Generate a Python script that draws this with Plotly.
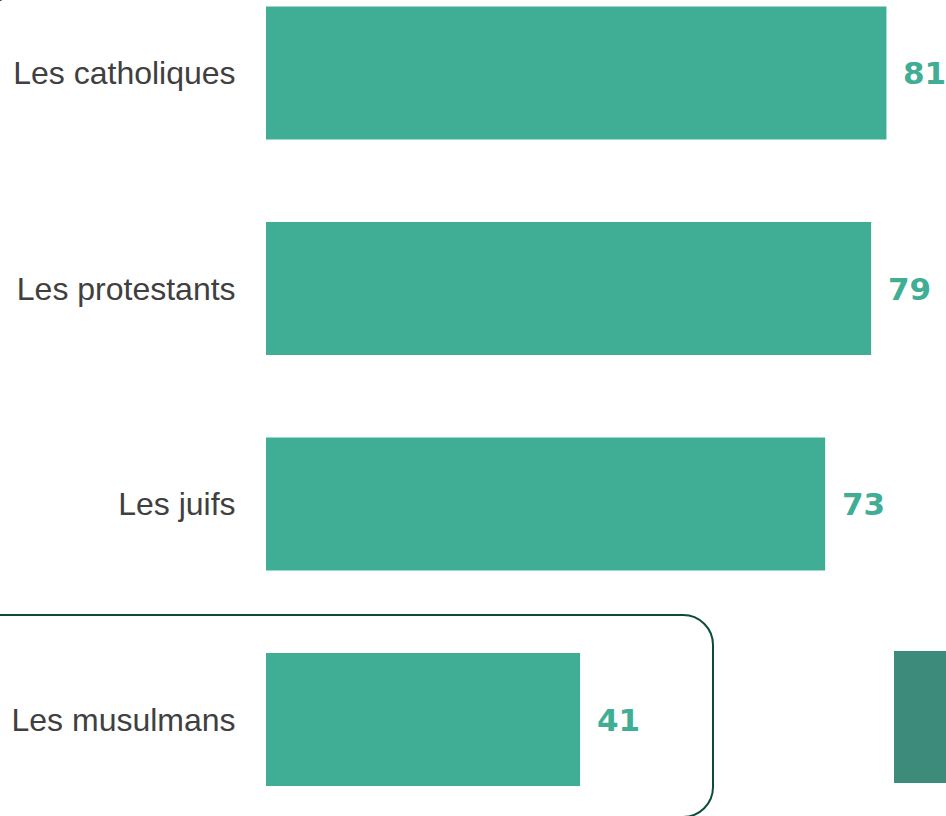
import plotly.graph_objects as go

categories = ["Les catholiques", "Les protestants", "Les juifs", "Les musulmans"]
values = [81, 79, 73, 41]

W, H = 946, 816
BAR = "#3FAE94"

def px(x):
    return x / W

def py(y):
    return 1 - y / H

fig = go.Figure()
fig.add_trace(go.Bar(
    x=values, y=categories, orientation="h",
    marker=dict(color=BAR, line=dict(width=0)),
    width=0.617, hoverinfo="skip",
))

for c, v in zip(categories, values):
    fig.add_annotation(
        x=v, y=c, xref="x", yref="y", text=f"<b>{v}</b>",
        showarrow=False, xanchor="left", yanchor="middle", xshift=15,
        font=dict(family="DejaVu Sans, Verdana, sans-serif", size=31, color=BAR),
    )

# rounded rectangle around the last row
L, T, R, B, r = -10, 615, 713, 817, 30
k = 0.5523 * r
path = (
    f"M {px(L)},{py(T)} L {px(R - r)},{py(T)} "
    f"C {px(R - r + k)},{py(T)} {px(R)},{py(T + r - k)} {px(R)},{py(T + r)} "
    f"L {px(R)},{py(B - r)} "
    f"C {px(R)},{py(B - r + k)} {px(R - r + k)},{py(B)} {px(R - r)},{py(B)} "
    f"L {px(L)},{py(B)}"
)
fig.add_shape(type="path", path=path, xref="paper", yref="paper",
              line=dict(color="#0E4A3A", width=2), fillcolor="rgba(0,0,0,0)")

# decorative block on right
fig.add_shape(type="rect", xref="paper", yref="paper",
              x0=px(894), x1=px(950), y0=py(783), y1=py(651),
              fillcolor="#3D8C7B", line=dict(width=0))

# decorative circle top-left
fig.add_shape(type="circle", xref="paper", yref="paper",
              x0=px(-44), x1=px(16), y0=py(3), y1=py(-57),
              line=dict(color="#3A4D63", width=3), fillcolor="rgba(0,0,0,0)")

spacing = 215.5
r0 = -73 / spacing
r1 = r0 + H / spacing

fig.update_layout(
    width=W, height=H,
    margin=dict(l=0, r=0, t=0, b=0),
    paper_bgcolor="white", plot_bgcolor="white",
    showlegend=False,
    xaxis=dict(domain=[266 / W, 1], range=[0, 680 / 7.66], visible=False, fixedrange=True),
    yaxis=dict(
        type="category", categoryorder="array", categoryarray=categories,
        range=[r1, r0], showgrid=False, zeroline=False, showline=False,
        ticks="outside", ticklen=23, tickcolor="rgba(0,0,0,0)",
        tickfont=dict(family="Liberation Sans, Arial, sans-serif", size=32, color="#404040"),
        fixedrange=True,
    ),
)

fig.write_html(
    "out.html",
    config={"displayModeBar": False},
    post_script="document.body.style.margin='0';document.body.style.overflow='hidden';",
)
